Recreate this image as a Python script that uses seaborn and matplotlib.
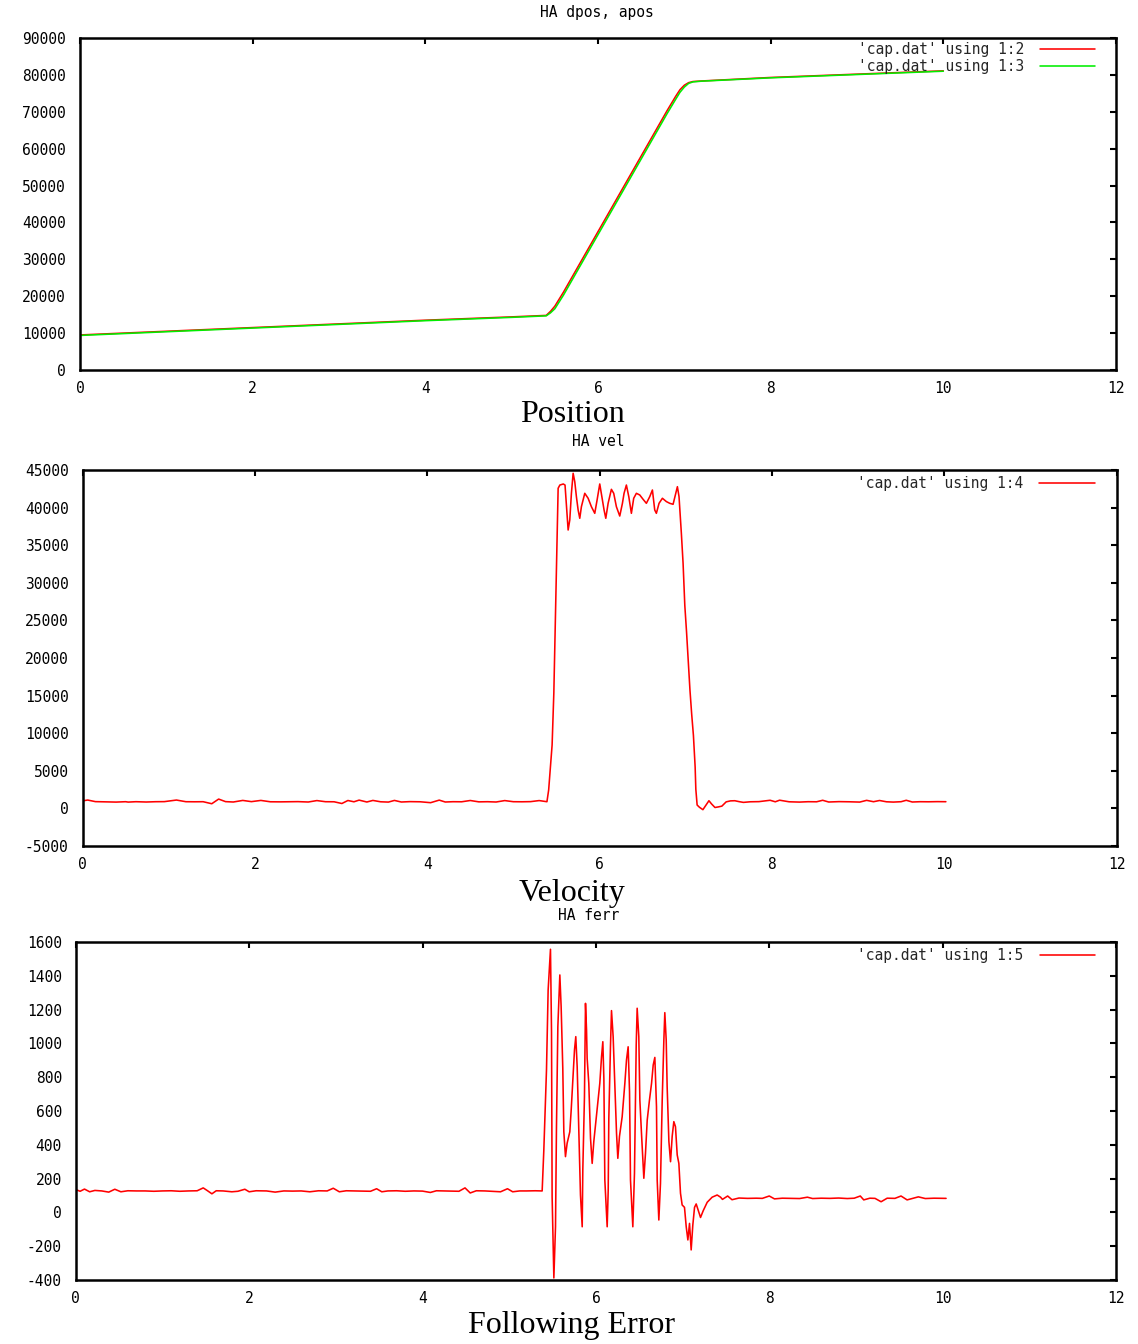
import matplotlib
matplotlib.use("Agg")
import matplotlib.pyplot as plt
import pandas as pd
import seaborn as sns

# ---------------- position (dpos demanded, apos actual) ----------------
t_pos = [0.0, 1.0, 2.0, 3.0, 4.0, 5.0, 5.40, 5.45, 5.50, 5.60, 5.70, 5.80,
         5.90, 6.00, 6.10, 6.20, 6.30, 6.40, 6.50, 6.60, 6.70, 6.80, 6.90,
         6.95, 7.00, 7.05, 7.10, 7.20, 8.0, 9.0, 10.0]
dpos = [9500, 10500, 11500, 12500, 13500, 14400, 14800, 15900, 17300, 21100,
        25200, 29300, 33400, 37500, 41600, 45700, 49800, 53900, 58000, 62100,
        66200, 70300, 74200, 76000, 77200, 77900, 78200, 78350, 79300, 80200,
        81100]
apos = [9370, 10370, 11370, 12370, 13370, 14270, 14680, 15500, 16600, 20300,
        24400, 28500, 32600, 36700, 40800, 44900, 49000, 53100, 57200, 61300,
        65400, 69500, 73400, 75300, 76700, 77700, 78100, 78300, 79200, 80100,
        81000]

# ---------------- velocity ----------------
t_vel = [0.00, 0.06, 0.15, 0.25, 0.39, 0.50, 0.53, 0.62, 0.74, 0.85, 0.95,
         1.09, 1.20, 1.30, 1.40, 1.50, 1.58, 1.66, 1.75, 1.86, 1.96, 2.07,
         2.18, 2.30, 2.40, 2.50, 2.62, 2.72, 2.82, 2.92, 3.01, 3.08, 3.15,
         3.21, 3.30, 3.37, 3.46, 3.55, 3.62, 3.70, 3.80, 3.92, 4.04, 4.14,
         4.21, 4.30, 4.40, 4.50, 4.60, 4.70, 4.80, 4.90, 5.00, 5.10, 5.20,
         5.30, 5.39,
         5.41, 5.43, 5.45, 5.47, 5.49, 5.51, 5.52, 5.54, 5.58, 5.60, 5.616,
         5.636, 5.655, 5.674, 5.694, 5.713, 5.732, 5.752, 5.771, 5.790, 5.829,
         5.868, 5.906, 5.945, 5.972, 6.003, 6.034, 6.053, 6.073, 6.100, 6.138,
         6.165, 6.196, 6.235, 6.266, 6.285, 6.312, 6.340, 6.370, 6.397, 6.428,
         6.467, 6.506, 6.544, 6.583, 6.614, 6.641, 6.660, 6.691, 6.730, 6.776,
         6.815, 6.854, 6.885, 6.904, 6.923, 6.950, 6.970,
         6.99, 7.01, 7.03, 7.05, 7.07, 7.09, 7.11, 7.118, 7.133, 7.16, 7.20,
         7.24, 7.27, 7.30, 7.34, 7.38, 7.42, 7.47, 7.52, 7.57, 7.62, 7.67,
         7.75, 7.85, 7.98, 8.04, 8.09, 8.20, 8.32, 8.42, 8.52, 8.59, 8.66,
         8.78, 8.90, 9.02, 9.10, 9.18, 9.25, 9.33, 9.41, 9.50, 9.56, 9.63,
         9.72, 9.82, 9.92, 10.02]
vel = [1000, 1110, 900, 880, 840, 890, 840, 890, 850, 890, 900,
       1110, 890, 880, 890, 620, 1240, 900, 850, 1060, 900, 1060,
       880, 870, 880, 900, 850, 1040, 890, 880, 650, 1050, 880,
       1100, 850, 1060, 880, 840, 1060, 850, 900, 880, 760, 1100,
       850, 890, 880, 1050, 870, 890, 850, 1040, 890, 880, 900,
       1040, 890,
       2450, 5370, 8430, 15350, 26380, 37290, 42570, 43000, 43140, 43000, 40350,
       37020, 38350, 41900, 44560, 43440, 41450, 39680, 38580, 40120, 41900,
       41240, 40120, 39240, 41010, 43140, 41010, 39680, 38580, 40570, 42430,
       41900, 40120, 38880, 40570, 41900, 43000, 41450, 39240, 41240, 41900,
       41680, 41100, 40570, 41450, 42340, 39680, 39240, 40570, 41240, 40800,
       40570, 40440, 41900, 42780, 41450, 36580, 32590,
       27000, 23500, 19500, 15700, 12500, 9700, 5500, 2540, 450, 150, -170,
       500, 1020, 600, 120, 200, 300, 870, 1000, 1020, 900, 800,
       880, 900, 1080, 880, 1090, 880, 840, 890, 880, 1080, 850,
       900, 880, 840, 1070, 890, 1050, 880, 840, 890, 1080, 850,
       890, 880, 900, 890]

# ---------------- following error ----------------
t_ferr = [0.00, 0.05, 0.10, 0.16, 0.22, 0.30, 0.38, 0.45, 0.52, 0.60, 0.70,
          0.80, 0.90, 1.00, 1.10, 1.20, 1.30, 1.40, 1.47, 1.52, 1.57, 1.62,
          1.70, 1.80, 1.87, 1.95, 2.00, 2.08, 2.20, 2.30, 2.40, 2.50, 2.60,
          2.70, 2.80, 2.90, 2.97, 3.04, 3.12, 3.20, 3.30, 3.40, 3.47, 3.53,
          3.60, 3.70, 3.80, 3.90, 4.00, 4.09, 4.16, 4.25, 4.35, 4.42, 4.49,
          4.55, 4.62, 4.72, 4.80, 4.90, 4.98, 5.04, 5.12, 5.20, 5.30, 5.38,
          5.399, 5.430, 5.449, 5.476, 5.488, 5.495, 5.515, 5.534, 5.545, 5.561,
          5.584, 5.599, 5.618, 5.630, 5.649, 5.668, 5.699, 5.715, 5.734, 5.753,
          5.768, 5.784, 5.803, 5.822, 5.842, 5.849, 5.868, 5.880, 5.892, 5.899,
          5.918, 5.938, 5.957, 5.976, 6.015, 6.045, 6.065, 6.080, 6.092, 6.103,
          6.130, 6.142, 6.149, 6.168, 6.180, 6.199, 6.218, 6.238, 6.253, 6.272,
          6.303, 6.334, 6.353, 6.372, 6.388, 6.399, 6.426, 6.445, 6.465, 6.476,
          6.495, 6.507, 6.526, 6.553, 6.572, 6.592, 6.618, 6.642, 6.661, 6.680,
          6.699, 6.707, 6.726, 6.745, 6.765, 6.784, 6.795, 6.811, 6.822, 6.842,
          6.861, 6.880, 6.899, 6.918, 6.938, 6.957, 6.976, 6.995, 7.022, 7.042,
          7.061, 7.080, 7.099, 7.118, 7.138, 7.157, 7.176, 7.207, 7.238, 7.284,
          7.341, 7.399, 7.438, 7.46, 7.52, 7.57, 7.65, 7.75, 7.85, 7.92, 8.00,
          8.06, 8.15, 8.25, 8.35, 8.44, 8.50, 8.60, 8.70, 8.80, 8.90, 8.98,
          9.05, 9.09, 9.16, 9.22, 9.29, 9.36, 9.45, 9.52, 9.59, 9.66, 9.72,
          9.80, 9.90, 10.04]
ferr = [135, 125, 138, 122, 130, 127, 120, 137, 122, 128, 127,
        127, 125, 127, 128, 125, 127, 128, 145, 128, 110, 128,
        127, 122, 125, 137, 122, 128, 127, 120, 127, 126, 127,
        122, 128, 127, 143, 122, 128, 127, 126, 125, 140, 122,
        127, 128, 125, 127, 126, 118, 128, 127, 126, 125, 145,
        115, 128, 127, 125, 122, 140, 122, 127, 127, 128, 127,
        365, 843, 1316, 1557, 1069, 93, -388, -85, 499, 1099,
        1405, 1217, 853, 477, 330, 409, 477, 606, 783, 961,
        1040, 862, 477, 103, -85, 251, 685, 1237, 1079, 912,
        764, 438, 290, 420, 616, 764, 921, 1010, 790, 192,
        -85, 130, 557, 980, 1194, 1040, 753, 467, 320, 450,
        566, 764, 902, 980, 714, 192, -85, 232, 991, 1208,
        1040, 665, 467, 202, 350, 546, 665, 764, 872, 917,
        625, 192, -45, 172, 665, 1020, 1182, 1020, 743, 420,
        300, 450, 537, 507, 340, 290, 113, 44, 30, -85,
        -163, -65, -222, -75, 30, 50, 20, -30, 10, 60,
        90, 103, 90, 77, 97, 75, 85, 83, 84, 83, 97,
        80, 84, 83, 82, 90, 82, 84, 83, 85, 82, 84,
        97, 74, 84, 83, 63, 84, 83, 97, 74, 84, 92,
        82, 84, 83]

x_ticks = [0, 2, 4, 6, 8, 10, 12]
pos_ticks = list(range(0, 90001, 10000))
vel_ticks = list(range(-5000, 45001, 5000))
ferr_ticks = list(range(-400, 1601, 200))

titles = ["HA dpos, apos", "HA vel", "HA ferr"]
captions = ["Position", "Velocity", "Following Error"]

df_pos = pd.DataFrame({"t": t_pos, "dpos": dpos, "apos": apos})
df_vel = pd.DataFrame({"t": t_vel, "vel": vel})
df_ferr = pd.DataFrame({"t": t_ferr, "ferr": ferr})

sns.set_theme(style="white")
plt.rcParams["font.family"] = ["DejaVu Sans Mono"]
plt.rcParams["axes.unicode_minus"] = False
MONO = 10.5
LW = 1.15

W, H = 1138, 1344
fig = plt.figure(figsize=(W / 100, H / 100), dpi=100)
fig.patch.set_facecolor("white")


def panel(left, top, right, bottom):
    return fig.add_axes([left / W, 1 - bottom / H, (right - left) / W, (bottom - top) / H])


def style(ax, ylim, yticks):
    ax.set_xlim(0, 12)
    ax.set_ylim(*ylim)
    ax.set_xticks(x_ticks)
    ax.set_yticks(yticks)
    ax.set_xticklabels([str(v) for v in x_ticks])
    ax.set_yticklabels([str(v) for v in yticks])
    ax.tick_params(direction="in", length=4.5, width=1.5, top=True, right=True,
                   labelsize=MONO, colors="black")
    ax.tick_params(axis="x", pad=8)
    ax.tick_params(axis="y", pad=10)
    for s in ax.spines.values():
        s.set_linewidth(1.8)
        s.set_color("black")
    ax.set_xlabel("")
    ax.set_ylabel("")
    ax.grid(False)
    ax.set_facecolor("white")


def legend(ax, anchor):
    ax.legend(loc="upper right", bbox_to_anchor=anchor, frameon=False,
              markerfirst=False, handlelength=3.8, handletextpad=1.1,
              labelspacing=0.12, borderaxespad=0, borderpad=0,
              prop={"family": "DejaVu Sans Mono", "size": MONO})


ax1 = panel(80, 38, 1116, 370)
sns.lineplot(data=df_pos, x="t", y="dpos", ax=ax1, color="#ff0000", lw=LW,
             estimator=None, sort=False, label="'cap.dat' using 1:2")
sns.lineplot(data=df_pos, x="t", y="apos", ax=ax1, color="#00ee00", lw=LW,
             estimator=None, sort=False, label="'cap.dat' using 1:3")
style(ax1, (0, 90000), pos_ticks)
legend(ax1, (0.98, 0.988))

ax2 = panel(82.5, 470, 1116.5, 846)
sns.lineplot(data=df_vel, x="t", y="vel", ax=ax2, color="#ff0000", lw=LW,
             estimator=None, sort=False, label="'cap.dat' using 1:4")
style(ax2, (-5000, 45000), vel_ticks)
legend(ax2, (0.979, 0.983))

ax3 = panel(75.8, 942, 1116, 1280)
sns.lineplot(data=df_ferr, x="t", y="ferr", ax=ax3, color="#ff0000", lw=LW,
             estimator=None, sort=False, label="'cap.dat' using 1:5")
style(ax3, (-400, 1600), ferr_ticks)
legend(ax3, (0.98, 0.983))

# panel titles (monospace) and captions (serif)
for txt, x, y in zip(titles, [597, 598, 589], [12, 441, 916]):
    fig.text(x / W, 1 - y / H, txt, ha="center", va="center",
             fontsize=MONO, family="DejaVu Sans Mono", color="black")
for txt, y in zip(captions, [414, 893, 1326]):
    fig.text(572 / W, 1 - y / H, txt, ha="center", va="center",
             fontsize=23, family="Liberation Serif", color="black")

fig.savefig("out.png", dpi=100, facecolor="white")
